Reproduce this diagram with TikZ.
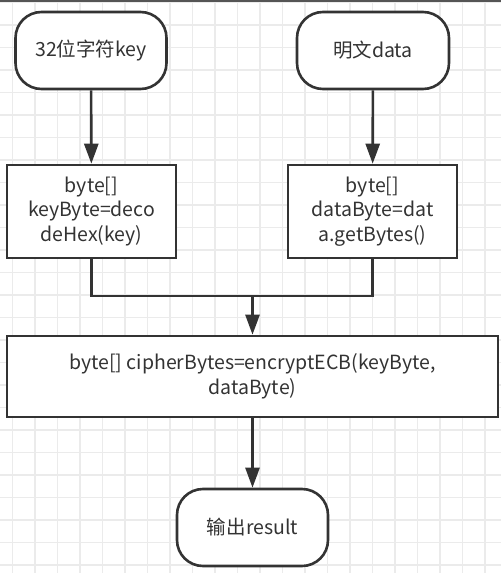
\documentclass[tikz,border=0pt]{standalone}
\usepackage{fontspec}
\setmainfont{Noto Sans CJK SC}
\usetikzlibrary{arrows.meta}

\definecolor{inkgray}{HTML}{333333}
\definecolor{gridgray}{HTML}{EBEBEB}
\definecolor{bargray}{HTML}{555555}

\tikzset{
  gridline/.style={draw=gridgray, line width=1.3bp},
  startstop/.style={draw=inkgray, fill=white, line width=2.6bp, rounded corners=26bp,
    minimum width=151bp, minimum height=77bp, inner sep=0pt, text=inkgray},
  process/.style={draw=inkgray, fill=white, line width=2.6bp, inner sep=0pt,
    align=center, text=inkgray},
  flow/.style={draw=inkgray, line width=2.6bp, -{Triangle[length=20bp,width=14bp]}},
  joinline/.style={draw=inkgray, line width=2.6bp}
}

\begin{document}
\begin{tikzpicture}[x=1bp, y=-1bp, font=\fontsize{19.5bp}{24.5bp}\selectfont]

\useasboundingbox (0,0) rectangle (501,573);

% Background grid
\fill[white] (0,0) rectangle (501,573);
\foreach \x in {0,...,21}
{
\draw[gridline] (12.5+22.5*\x,0) -- (12.5+22.5*\x,573);
}
\foreach \y in {0,...,25}
{
\draw[gridline] (0,2.5+22.5*\y) -- (501,2.5+22.5*\y);
}
\fill[bargray] (0,0) rectangle (501,2);

% Inputs
\node[startstop] (key) at (91,50.5) {32位字符key};
\node[startstop, minimum width=152bp] (data) at (373,50.5) {明文data};

% Conversion
\node[process, minimum width=169bp, minimum height=93bp] (keybyte) at (91.5,211.5)
  {byte[]\\keyByte=deco\\deHex(key)};
\node[process, minimum width=169bp, minimum height=93bp] (databyte) at (372.5,211.5)
  {byte[]\\dataByte=dat\\a.getBytes()};

% Encryption
\node[process, minimum width=491bp, minimum height=81bp] (cipher) at (252.5,376.5)
  {byte[] cipherBytes=encryptECB(keyByte,\\dataByte)};

% Output
\node[startstop] (result) at (252.5,527.5) {输出result};

% Connectors
\coordinate (join) at (252.5,296);
\draw[flow] (key) -- (keybyte);
\draw[flow] (data) -- (databyte);
\draw[joinline] (keybyte.south) -- (keybyte.south |- join) -- (databyte.south |- join) -- (databyte.south);
\draw[flow] (join) -- (cipher);
\draw[flow] (cipher) -- (result);

\end{tikzpicture}
\end{document}
